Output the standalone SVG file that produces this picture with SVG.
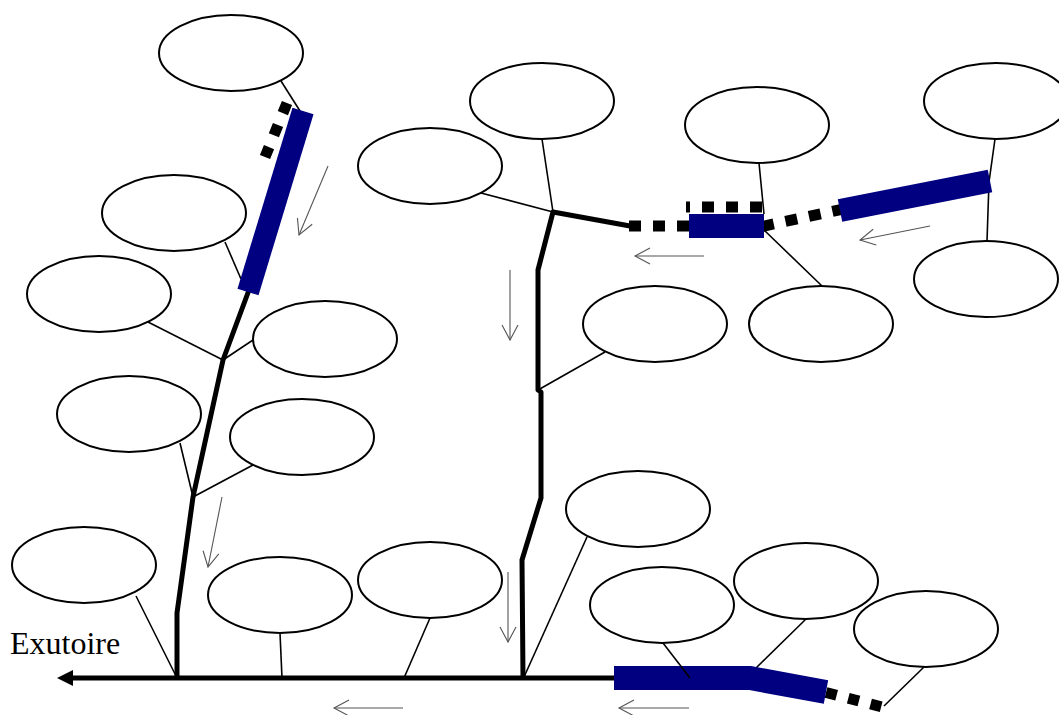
<svg xmlns="http://www.w3.org/2000/svg" width="1059" height="715" viewBox="0 0 1059 715">
<style>
.n{fill:#fff;stroke:#000;stroke-width:2}
.c{stroke:#000;stroke-width:1.6;fill:none}
.t{stroke:#000;stroke-width:5;fill:none;stroke-linejoin:round}
.b{stroke:#000080;fill:none;stroke-linejoin:miter}
.d{stroke:#000;fill:none;stroke-width:11}
.f{stroke:#555;stroke-width:1.1;fill:none;marker-end:url(#ah)}
</style>
<defs>
<marker id="ah" markerUnits="userSpaceOnUse" markerWidth="20" markerHeight="20" refX="0" refY="0" orient="auto" overflow="visible">
<path d="M-15,-8 L0,0 L-15,8" fill="none" stroke="#555" stroke-width="1.1"/>
</marker>
</defs>
<rect width="1059" height="715" fill="#fff"/>
<g id="connectors">
<line class="c" x1="281" y1="81" x2="300" y2="111"/>
<line class="c" x1="225" y1="242" x2="241" y2="279"/>
<line class="c" x1="148" y1="322" x2="223" y2="360"/>
<line class="c" x1="253" y1="340" x2="223" y2="360"/>
<line class="c" x1="180" y1="443" x2="193" y2="497"/>
<line class="c" x1="253" y1="465" x2="193" y2="497"/>
<line class="c" x1="136" y1="596" x2="177" y2="678"/>
<line class="c" x1="280" y1="633" x2="282" y2="678"/>
<line class="c" x1="430" y1="618" x2="404" y2="678"/>
<line class="c" x1="542" y1="139" x2="553" y2="212"/>
<line class="c" x1="481" y1="193" x2="553" y2="212"/>
<line class="c" x1="605" y1="352" x2="538" y2="390"/>
<line class="c" x1="587" y1="537" x2="524" y2="677"/>
<line class="c" x1="759" y1="163" x2="764" y2="214"/>
<line class="c" x1="764" y1="230" x2="822" y2="286"/>
<polyline class="c" points="995,139 989,182 987,241"/>
<line class="c" x1="806" y1="619" x2="756" y2="668"/>
<line class="c" x1="924" y1="667" x2="884" y2="706"/>
<polyline class="t" points="614,678 70,678"/>
<polygon points="57,678 73,670 73,686" fill="#000"/>
<polyline class="t" points="177,678 177,613 193,497 223,360 249,290"/>
<polyline class="t" points="523,678 522,560 541,498 541,392 538,390 538,270 553,212 630,226"/>
<line class="d" x1="287" y1="103" x2="265" y2="157" stroke-dasharray="11 12.8" stroke-width="12"/>
<line class="d" x1="629" y1="226" x2="689" y2="226" stroke-dasharray="12 12"/>
<line class="d" x1="686" y1="207" x2="762" y2="207" stroke-dasharray="12 12" stroke-dashoffset="8"/>
<line class="d" x1="762" y1="226.5" x2="846" y2="208.5" stroke-dasharray="12 12"/>
<line class="d" x1="826" y1="692.5" x2="886" y2="708" stroke-dasharray="11 12" stroke-width="12"/>
<line class="b" stroke-width="22" x1="303" y1="111" x2="248" y2="292"/>
<line class="b" stroke-width="24" x1="689" y1="226" x2="764" y2="226"/>
<line class="b" stroke-width="23" x1="840" y1="210.5" x2="990" y2="181"/>
<polyline class="b" stroke-width="24" points="614,678 750,678 826,692"/>
<line class="c" x1="663" y1="643" x2="690" y2="678"/>
<line class="f" x1="328" y1="166" x2="299" y2="235"/>
<line class="f" x1="510" y1="270" x2="510" y2="340"/>
<line class="f" x1="222" y1="497" x2="208" y2="567"/>
<line class="f" x1="508" y1="572" x2="508" y2="642"/>
<line class="f" x1="704" y1="256" x2="635" y2="256"/>
<line class="f" x1="930" y1="226" x2="860" y2="240"/>
<line class="f" x1="403" y1="708" x2="334" y2="708"/>
<line class="f" x1="689" y1="708" x2="619" y2="708"/>
</g>
<g id="n1"><ellipse class="n" cx="231" cy="53" rx="72" ry="38"/></g>
<g id="n2"><ellipse class="n" cx="174" cy="213" rx="72" ry="38"/></g>
<g id="n3"><ellipse class="n" cx="99" cy="294" rx="72" ry="38"/></g>
<g id="n4"><ellipse class="n" cx="325" cy="339" rx="72" ry="38"/></g>
<g id="n5"><ellipse class="n" cx="129" cy="414" rx="72" ry="38"/></g>
<g id="n6"><ellipse class="n" cx="302" cy="437" rx="72" ry="38"/></g>
<g id="n7"><ellipse class="n" cx="84" cy="565" rx="72" ry="38"/></g>
<g id="n8"><ellipse class="n" cx="280" cy="595" rx="72" ry="38"/></g>
<g id="n9"><ellipse class="n" cx="430" cy="580" rx="72" ry="38"/></g>
<g id="n10"><ellipse class="n" cx="542" cy="101" rx="72" ry="38"/></g>
<g id="n11"><ellipse class="n" cx="430" cy="166" rx="72" ry="38"/></g>
<g id="n12"><ellipse class="n" cx="757" cy="125" rx="72" ry="38"/></g>
<g id="n13"><ellipse class="n" cx="996" cy="101" rx="72" ry="38"/></g>
<g id="n14"><ellipse class="n" cx="986" cy="279" rx="72" ry="38"/></g>
<g id="n15"><ellipse class="n" cx="655" cy="324" rx="72" ry="38"/></g>
<g id="n16"><ellipse class="n" cx="821" cy="324" rx="72" ry="38"/></g>
<g id="n17"><ellipse class="n" cx="638" cy="509" rx="72" ry="38"/></g>
<g id="n18"><ellipse class="n" cx="662" cy="605" rx="72" ry="38"/></g>
<g id="n19"><ellipse class="n" cx="806" cy="581" rx="72" ry="38"/></g>
<g id="n20"><ellipse class="n" cx="926" cy="629" rx="72" ry="38"/></g>
<g id="label"><text x="10" y="654" font-family="Liberation Serif, serif" font-size="32">Exutoire</text></g>
</svg>
